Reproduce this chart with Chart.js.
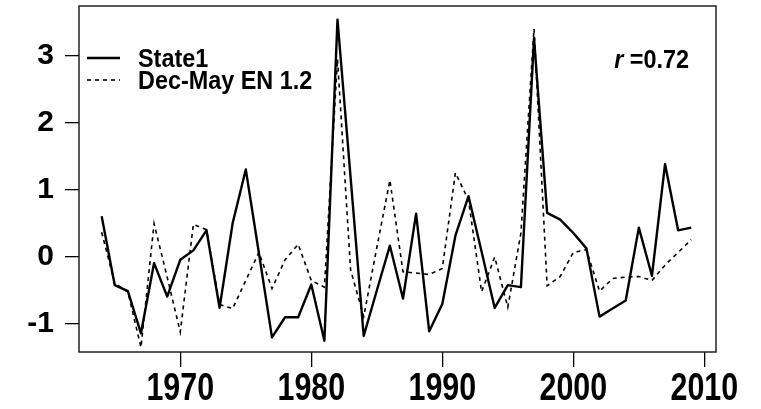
<!DOCTYPE html>
<html>
<head>
<meta charset="utf-8">
<script src="https://cdn.jsdelivr.net/npm/chart.js@4.4.1/dist/chart.umd.min.js"></script>
<style>
  html, body { margin: 0; padding: 0; background: #fff; }
  #wrap { width: 761px; height: 409px; }
</style>
</head>
<body>
<div id="wrap"><canvas id="chart" width="761" height="409"></canvas></div>
<script>
const years = [1964, 1965, 1966, 1967, 1968, 1969, 1970, 1971, 1972, 1973,
               1974, 1975, 1976, 1977, 1978, 1979, 1980, 1981, 1982, 1983,
               1984, 1985, 1986, 1987, 1988, 1989, 1990, 1991, 1992, 1993,
               1994, 1995, 1996, 1997, 1998, 1999, 2000, 2001, 2002, 2003,
               2004, 2005, 2006, 2007, 2008, 2009];
const state1 = [0.60, -0.43, -0.52, -1.15, -0.10, -0.60, -0.05, 0.09, 0.39, -0.77,
                0.50, 1.30, 0.05, -1.21, -0.91, -0.91, -0.42, -1.26, 3.54, 1.18,
                -1.19, -0.51, 0.16, -0.63, 0.64, -1.12, -0.71, 0.31, 0.90, 0.07,
                -0.77, -0.43, -0.46, 3.26, 0.65, 0.55, 0.35, 0.12, -0.90, -0.78,
                -0.66, 0.43, -0.29, 1.38, 0.39, 0.43];
const decMayEN12 = [0.36, -0.40, -0.53, -1.36, 0.49, -0.31, -1.13, 0.48, 0.40, -0.72,
                    -0.78, -0.36, 0.06, -0.48, -0.05, 0.18, -0.36, -0.46, 2.95, -0.20,
                    -0.90, 0.13, 1.14, -0.23, -0.25, -0.27, -0.18, 1.25, 0.84, -0.53,
                    -0.01, -0.76, 0.35, 3.40, -0.44, -0.30, 0.06, 0.10, -0.52, -0.33,
                    -0.31, -0.30, -0.36, -0.13, 0.06, 0.25];
const xTicks = [1970, 1980, 1990, 2000, 2010];
const yTicks = [-1, 0, 1, 2, 3];
const seriesNames = ["State1", "Dec-May EN 1.2"];
const corrValue = "0.72";

const FONT = '"Liberation Sans", Arial, sans-serif';

function points(vals) {
  return years.map((yr, i) => ({ x: yr, y: vals[i] }));
}

// narrow, tall text: draw at a big size and squeeze it sideways
function squeezed(ctx, text, x, y, size, sx, align, style) {
  ctx.save();
  ctx.translate(x, y);
  ctx.scale(sx, 1);
  ctx.font = (style || "bold") + " " + size + "px " + FONT;
  ctx.fillStyle = "#000";
  ctx.textAlign = align || "left";
  ctx.textBaseline = "alphabetic";
  ctx.fillText(text, 0, 0);
  const w = ctx.measureText(text).width * sx;
  ctx.restore();
  return w;
}

// box round the plot, year labels, legend and the r value
const framePlugin = {
  id: "frame",
  afterDatasetsDraw(chart) {
    const ctx = chart.ctx;
    const a = chart.chartArea;
    ctx.save();
    ctx.strokeStyle = "#222";
    ctx.lineWidth = 1.5;
    ctx.strokeRect(a.left, a.top, a.right - a.left, a.bottom - a.top);

    const xs = chart.scales.x;
    xTicks.forEach(v => {
      squeezed(ctx, String(v), xs.getPixelForValue(v), 400, 38, 0.8, "center");
    });

    const rows = [58, 80];
    chart.data.datasets.forEach((ds, i) => {
      ctx.beginPath();
      ctx.strokeStyle = "#000";
      ctx.lineWidth = ds.borderWidth;
      ctx.setLineDash(ds.borderDash || []);
      ctx.moveTo(a.left + 8, rows[i]);
      ctx.lineTo(a.left + 41, rows[i]);
      ctx.stroke();
      ctx.setLineDash([]);
      squeezed(ctx, ds.label, a.left + 59, rows[i] + 9, 26, 0.9);
    });

    const w = squeezed(ctx, " =" + corrValue, a.right - 27, 68, 26, 0.9, "right");
    squeezed(ctx, "r", a.right - 27 - w, 68, 26, 0.9, "right", "italic bold");

    ctx.restore();
  }
};

new Chart(document.getElementById("chart"), {
  type: "line",
  data: {
    datasets: [
      {
        label: seriesNames[0],
        data: points(state1),
        borderColor: "#000",
        borderWidth: 2.4,
        borderJoinStyle: "round",
        pointRadius: 0,
        tension: 0,
        fill: false
      },
      {
        label: seriesNames[1],
        data: points(decMayEN12),
        borderColor: "#000",
        borderWidth: 1.6,
        borderDash: [4, 4],
        pointRadius: 0,
        tension: 0,
        fill: false
      }
    ]
  },
  options: {
    responsive: false,
    animation: false,
    devicePixelRatio: 1,
    layout: { padding: { top: 6, right: 45, left: 0, bottom: 0 } },
    plugins: { legend: { display: false }, tooltip: { enabled: false } },
    scales: {
      x: {
        type: "linear",
        min: 1962.27,
        max: 2010.89,
        afterBuildTicks: s => { s.ticks = xTicks.map(v => ({ value: v })); },
        afterFit: s => {
          s.height = 57;
          s.paddingLeft = 0;
          s.paddingRight = 0;
        },
        border: { display: false },
        grid: { drawOnChartArea: false, tickLength: 15, color: "#000", lineWidth: 1.3 },
        ticks: { display: false }
      },
      y: {
        min: -1.429,
        max: 3.743,
        afterBuildTicks: s => { s.ticks = yTicks.map(v => ({ value: v })); },
        afterFit: s => {
          s.width = 79;
          s.paddingTop = 0;
          s.paddingBottom = 0;
        },
        border: { display: false },
        grid: { drawOnChartArea: false, tickLength: 14, color: "#000", lineWidth: 1.3 },
        ticks: {
          color: "#000",
          font: { family: FONT, size: 30, weight: "bold" },
          padding: 11,
          callback: v => String(v)
        }
      }
    }
  },
  plugins: [framePlugin]
});
</script>
</body>
</html>
